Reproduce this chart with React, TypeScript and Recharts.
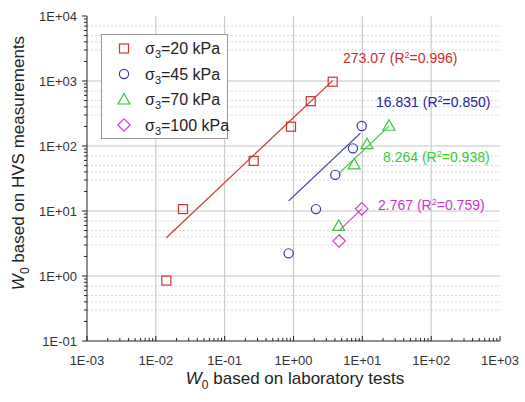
import React from "react";
import { ScatterChart, Scatter, XAxis, YAxis, ReferenceLine } from "recharts";

// axis decades and minor steps
const xDecades = [1e-3, 1e-2, 1e-1, 1, 10, 100, 1000];
const yDecades = [1e-1, 1, 10, 100, 1000, 10000];
const minorSteps = [2, 3, 4, 5, 6, 7, 8, 9];
const dashedSteps = [3, 4, 5, 7];

// measured points (lab W0 vs HVS W0)
const s20 = [
  { x: 0.0142, y: 0.85 },
  { x: 0.0248, y: 10.7 },
  { x: 0.264, y: 59 },
  { x: 0.92, y: 198 },
  { x: 1.78, y: 490 },
  { x: 3.71, y: 975 },
];
const s45 = [
  { x: 0.85, y: 2.23 },
  { x: 2.12, y: 10.7 },
  { x: 4.05, y: 36 },
  { x: 7.3, y: 92 },
  { x: 9.8, y: 203 },
];
const s70 = [
  { x: 4.54, y: 5.9 },
  { x: 7.6, y: 52 },
  { x: 11.7, y: 107 },
  { x: 24.4, y: 205 },
];
const s100 = [
  { x: 4.6, y: 3.46 },
  { x: 9.8, y: 10.8 },
];

// fitted lines, end points
const fit20 = [{ x: 0.0142, y: 3.88 }, { x: 3.71, y: 1013 }];
const fit45 = [{ x: 0.85, y: 14.3 }, { x: 9.4, y: 158 }];
const fit70 = [{ x: 4.54, y: 37.5 }, { x: 24.4, y: 202 }];
const fit100 = [{ x: 4.6, y: 5.0 }, { x: 9.8, y: 10.8 }];

const seriesNames = ["20", "45", "70", "100"];
const fitLabels = [
  { k: "273.07", r2: "0.996" },
  { k: "16.831", r2: "0.850" },
  { k: "8.264", r2: "0.938" },
  { k: "2.767", r2: "0.759" },
];

const RED = "#cc3333";
const BLUE = "#3a3aa6";
const GREEN = "#3dc63d";
const MAGENTA = "#cc44cc";
const FONT = "'Liberation Sans', Arial, sans-serif";

const withMinors = (decades: number[]) => {
  const out: number[] = [];
  decades.forEach((d, i) => {
    out.push(d);
    if (i < decades.length - 1) minorSteps.forEach((m) => out.push(d * m));
  });
  return out;
};
const xTicks = withMinors(xDecades);
const yTicks = withMinors(yDecades);
const yDashed: number[] = [];
yDecades.slice(0, -1).forEach((d) => dashedSteps.forEach((m) => yDashed.push(d * m)));

const isMajor = (v: number) => Math.abs(Math.log10(v) - Math.round(Math.log10(v))) < 1e-6;
const fmt = (v: number) => {
  const e = Math.round(Math.log10(v));
  return "1E" + (e < 0 ? "-" : "+") + String(Math.abs(e)).padStart(2, "0");
};

const BottomTick = (p: any) => {
  const v = p.payload.value;
  const maj = isMajor(v);
  return (
    <g>
      <line x1={p.x} x2={p.x} y1={p.y} y2={p.y - (maj ? 5 : 3)} stroke="#222" />
      {maj && (
        <text x={p.x} y={p.y + 24} textAnchor="middle" fontSize={13} fill="#333" fontFamily={FONT}>
          {fmt(v)}
        </text>
      )}
    </g>
  );
};
const TopTick = (p: any) => {
  const maj = isMajor(p.payload.value);
  return <line x1={p.x} x2={p.x} y1={p.y} y2={p.y + (maj ? 5 : 3)} stroke="#222" />;
};
const LeftTick = (p: any) => {
  const v = p.payload.value;
  const maj = isMajor(v);
  return (
    <g>
      <line x1={p.x} x2={p.x - (maj ? 5 : 3)} y1={p.y} y2={p.y} stroke="#222" />
      {maj && (
        <text x={p.x - 10} y={p.y + 4.5} textAnchor="end" fontSize={13} fill="#333" fontFamily={FONT}>
          {fmt(v)}
        </text>
      )}
    </g>
  );
};
const RightTick = (p: any) => {
  const maj = isMajor(p.payload.value);
  return <line x1={p.x} x2={p.x - (maj ? 5 : 3)} y1={p.y} y2={p.y} stroke="#222" />;
};

const squareShape = (c: string) => (p: any) => (
  <rect x={p.cx - 4.5} y={p.cy - 4.5} width={9} height={9} fill="none" stroke={c} strokeWidth={1.2} />
);
const circleShape = (c: string) => (p: any) => (
  <circle cx={p.cx} cy={p.cy} r={4.6} fill="none" stroke={c} strokeWidth={1.2} />
);
const triangleShape = (c: string) => (p: any) => (
  <path d={`M${p.cx},${p.cy - 6}L${p.cx + 6},${p.cy + 4.5}L${p.cx - 6},${p.cy + 4.5}Z`} fill="none" stroke={c} strokeWidth={1.2} />
);
const diamondShape = (c: string) => (p: any) => (
  <path d={`M${p.cx},${p.cy - 6.2}L${p.cx + 6.2},${p.cy}L${p.cx},${p.cy + 6.2}L${p.cx - 6.2},${p.cy}Z`} fill="none" stroke={c} strokeWidth={1.2} />
);
const noShape = () => <g />;

const legendRows = [
  { c: RED, shape: (x: number, y: number) => <rect x={x - 4.5} y={y - 4.5} width={9} height={9} fill="none" stroke={RED} strokeWidth={1.2} /> },
  { c: BLUE, shape: (x: number, y: number) => <circle cx={x} cy={y} r={4.6} fill="none" stroke={BLUE} strokeWidth={1.2} /> },
  { c: GREEN, shape: (x: number, y: number) => <path d={`M${x},${y - 6}L${x + 6},${y + 4.5}L${x - 6},${y + 4.5}Z`} fill="none" stroke={GREEN} strokeWidth={1.2} /> },
  { c: MAGENTA, shape: (x: number, y: number) => <path d={`M${x},${y - 6.2}L${x + 6.2},${y}L${x},${y + 6.2}L${x - 6.2},${y}Z`} fill="none" stroke={MAGENTA} strokeWidth={1.2} /> },
];

const annotations = [
  { c: "#d02a2a", x: 343, y: 63 },
  { c: "#2222aa", x: 376, y: 107 },
  { c: "#33cc33", x: 383, y: 162 },
  { c: "#cc33cc", x: 378, y: 210 },
];

export default function App() {
  return (
    <div style={{ position: "fixed", left: 0, top: 0, width: 525, height: 402, background: "#fff" }}>
      <ScatterChart width={525} height={402} margin={{ top: 16, right: 25, bottom: 0, left: 0 }}>
        <XAxis
          xAxisId="b"
          dataKey="x"
          type="number"
          scale="log"
          domain={[1e-3, 1e3]}
          allowDataOverflow
          ticks={xTicks}
          interval={0}
          tickLine={false}
          tickSize={0}
          tickMargin={0}
          height={61}
          axisLine={{ stroke: "#222" }}
          tick={(p: any) => <BottomTick {...p} />}
        />
        <XAxis
          xAxisId="t"
          orientation="top"
          type="number"
          scale="log"
          domain={[1e-3, 1e3]}
          allowDataOverflow
          ticks={xTicks}
          interval={0}
          tickLine={false}
          tickSize={0}
          tickMargin={0}
          height={0}
          axisLine={{ stroke: "#222" }}
          tick={(p: any) => <TopTick {...p} />}
        />
        <YAxis
          yAxisId="l"
          dataKey="y"
          type="number"
          scale="log"
          domain={[0.1, 1e4]}
          allowDataOverflow
          ticks={yTicks}
          interval={0}
          tickLine={false}
          tickSize={0}
          tickMargin={0}
          width={87}
          axisLine={{ stroke: "#222" }}
          tick={(p: any) => <LeftTick {...p} />}
        />
        <YAxis
          yAxisId="r"
          orientation="right"
          type="number"
          scale="log"
          domain={[0.1, 1e4]}
          allowDataOverflow
          ticks={yTicks}
          interval={0}
          tickLine={false}
          tickSize={0}
          tickMargin={0}
          width={0}
          axisLine={{ stroke: "#222" }}
          tick={(p: any) => <RightTick {...p} />}
        />

        {yDashed.map((v) => (
          <ReferenceLine key={"d" + v} xAxisId="b" yAxisId="l" y={v} stroke="#d6d6d6" strokeDasharray="2 2" />
        ))}
        {yDecades.slice(1, -1).map((v) => (
          <ReferenceLine key={"y" + v} xAxisId="b" yAxisId="l" y={v} stroke="#c4c4c4" />
        ))}
        {xDecades.slice(1, -1).map((v) => (
          <ReferenceLine key={"x" + v} xAxisId="b" yAxisId="l" x={v} stroke="#c4c4c4" />
        ))}

        <Scatter xAxisId="b" yAxisId="l" data={fit20} line={{ stroke: RED, strokeWidth: 1.2 }} shape={noShape} isAnimationActive={false} />
        <Scatter xAxisId="b" yAxisId="l" data={fit45} line={{ stroke: BLUE, strokeWidth: 1.2 }} shape={noShape} isAnimationActive={false} />
        <Scatter xAxisId="b" yAxisId="l" data={fit70} line={{ stroke: GREEN, strokeWidth: 1.2 }} shape={noShape} isAnimationActive={false} />
        <Scatter xAxisId="b" yAxisId="l" data={fit100} line={{ stroke: MAGENTA, strokeWidth: 1.2 }} shape={noShape} isAnimationActive={false} />

        <Scatter xAxisId="b" yAxisId="l" data={s20} shape={squareShape(RED)} isAnimationActive={false} />
        <Scatter xAxisId="b" yAxisId="l" data={s45} shape={circleShape(BLUE)} isAnimationActive={false} />
        <Scatter xAxisId="b" yAxisId="l" data={s70} shape={triangleShape(GREEN)} isAnimationActive={false} />
        <Scatter xAxisId="b" yAxisId="l" data={s100} shape={diamondShape(MAGENTA)} isAnimationActive={false} />
      </ScatterChart>

      <svg width={525} height={402} style={{ position: "absolute", left: 0, top: 0, pointerEvents: "none" }} fontFamily={FONT}>
        {/* legend */}
        <rect x={101.5} y={34.5} width={126} height={104} fill="#fff" stroke="#999" />
        {legendRows.map((r, i) => (
          <g key={i}>
            {r.shape(124, 48.5 + i * 25.5)}
            <text x={145} y={54 + i * 25.5} fontSize={16} fill="#222">
              σ<tspan dy={4} fontSize={11}>3</tspan>
              <tspan dy={-4}>={seriesNames[i]} kPa</tspan>
            </text>
          </g>
        ))}

        {/* fit annotations */}
        {annotations.map((a, i) => (
          <text key={i} x={a.x} y={a.y} fontSize={14} fill={a.c}>
            {fitLabels[i].k} (R<tspan dy={-5} fontSize={9}>2</tspan>
            <tspan dy={5}>={fitLabels[i].r2})</tspan>
          </text>
        ))}

        {/* axis titles */}
        <text x={295} y={384} textAnchor="middle" fontSize={17} fill="#222">
          <tspan fontStyle="italic">W</tspan>
          <tspan dy={5} fontSize={12}>0</tspan>
          <tspan dy={-5}> based on laboratory tests</tspan>
        </text>
        <text x={0} y={0} transform="translate(23.5,163) rotate(-90)" textAnchor="middle" fontSize={17} fill="#222">
          <tspan fontStyle="italic">W</tspan>
          <tspan dy={5} fontSize={12}>0</tspan>
          <tspan dy={-5}> based on HVS measurements</tspan>
        </text>
      </svg>
    </div>
  );
}
